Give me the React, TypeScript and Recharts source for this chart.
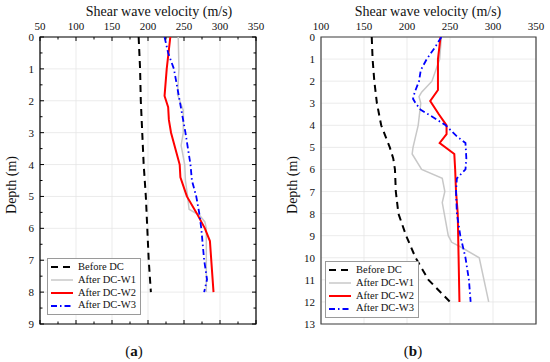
import React from 'react'
import {
  CartesianGrid,
  Legend,
  Line,
  LineChart,
  ReferenceArea,
  XAxis,
  YAxis,
} from 'recharts'

const FONT = '"Liberation Serif", "Times New Roman", serif'

// panel (a)
const A_X_TICKS = [50, 75, 100, 125, 150, 175, 200, 225, 250, 275, 300, 325, 350]
const A_X_MAJOR = [50, 100, 150, 200, 250, 300, 350]
const A_Y_TICKS = [0, 0.5, 1, 1.5, 2, 2.5, 3, 3.5, 4, 4.5, 5, 5.5, 6, 6.5, 7, 7.5, 8, 8.5, 9]
const A_Y_MAJOR = [0, 1, 2, 3, 4, 5, 6, 7, 8, 9]

const A_BEFORE_DEPTH = [0, 1, 2, 3, 4, 5, 6, 7, 8]
const A_BEFORE_VS = [187, 189, 190, 192, 194, 197, 199, 201, 204]
const A_W1_DEPTH = [0, 1, 1.8, 2.3, 3, 3.4, 4, 4.5, 5, 5.4, 5.6, 5.8, 6, 7, 8]
const A_W1_VS = [242, 243, 241, 249, 249, 246, 251, 252, 255, 257, 272, 279, 281, 281, 281]
const A_W2_DEPTH = [0, 1, 1.85, 2.2, 2.6, 3, 4, 4.4, 5, 5.5, 6, 6.4, 8]
const A_W2_VS = [231, 226, 223, 228, 229, 232, 244, 245, 254, 267, 279, 286, 291]
const A_W3_DEPTH = [0, 0.5, 1, 2, 3, 4, 4.5, 5, 5.5, 6, 7, 7.6, 8]
const A_W3_VS = [223, 228, 236, 244, 252, 259, 261, 267, 271, 274, 278, 282, 278]

// panel (b)
const B_X_TICKS = [100, 150, 200, 250, 300, 350]
const B_Y_TICKS = [0, 1, 2, 3, 4, 5, 6, 7, 8, 9, 10, 11, 12, 13]

const B_BEFORE_DEPTH = [0, 1, 2, 3, 4, 4.5, 5, 5.5, 6, 7, 8, 9, 10, 11, 12]
const B_BEFORE_VS = [159, 160, 162, 165, 170, 175, 180, 184, 186, 187, 190, 199, 210, 225, 250]
const B_W1_DEPTH = [0, 1, 2, 2.5, 2.7, 3, 4, 5, 5.3, 6, 6.4, 7, 7.5, 9, 9.3, 9.5, 10, 12]
const B_W1_VS = [240, 238, 229, 217, 214, 216, 213, 207, 206, 217, 241, 244, 241, 248, 252, 262, 284, 295]
const B_W2_DEPTH = [0, 1, 2, 2.4, 2.9, 3.5, 4, 4.4, 4.8, 5.3, 6, 7, 8, 12]
const B_W2_VS = [239, 236, 236, 236, 227, 237, 246, 246, 238, 255, 256, 257, 259, 261]
const B_W3_DEPTH = [0, 0.5, 1, 1.5, 2, 2.5, 2.8, 3, 3.3, 3.6, 4, 4.5, 4.8, 5.5, 6, 6.4, 7, 8, 9, 10, 11, 12]
const B_W3_VS = [240, 232, 223, 216, 214, 209, 207, 210, 216, 229, 245, 258, 268, 269, 268, 258, 257, 258, 262, 268, 272, 274]

const SERIES_NAMES = ['Before DC', 'After DC-W1', 'After DC-W2', 'After DC-W3']

const STYLES: Record<string, { stroke: string; width: number; dash?: string }> = {
  'Before DC': { stroke: '#000000', width: 2, dash: '7 5' },
  'After DC-W1': { stroke: '#c8c8c8', width: 1.5 },
  'After DC-W2': { stroke: '#ff0000', width: 2 },
  'After DC-W3': { stroke: '#0000ff', width: 1.8, dash: '6 3 1.5 3' },
}

const toRows = (depth: number[], vs: number[]) => depth.map((d, i) => ({ depth: d, vs: vs[i] }))

interface PanelProps {
  series: { depth: number[]; vs: number[] }[]
  xTicks: number[]
  xMajor: number[]
  yTicks: number[]
  yMajor: number[]
  margin: { top: number; right: number; bottom: number; left: number }
  innerTicks: boolean
  frame: string
  legendPos: { left: number; top: number }
}

const CHART_W = 275
const CHART_H = 362
const X_AXIS_H = 25
const Y_AXIS_W = 30

const tickText: React.CSSProperties = { fontFamily: FONT, fontSize: 11 }

function Panel({ series, xTicks, xMajor, yTicks, yMajor, margin, innerTicks, frame, legendPos }: PanelProps) {
  const top = margin.top + X_AXIS_H
  const bottom = CHART_H - margin.bottom
  const left = margin.left + Y_AXIS_W
  const right = CHART_W - margin.right
  const xMin = xTicks[0]
  const xMax = xTicks[xTicks.length - 1]
  const yMax = yTicks[yTicks.length - 1]

  const xTick = (p: any) => {
    const v = p.payload.value
    const major = xMajor.includes(v)
    const len = major ? 4 : 2.5
    return (
      <g>
        {innerTicks && (
          <>
            <line x1={p.x} x2={p.x} y1={top} y2={top + len} stroke="#000" />
            <line x1={p.x} x2={p.x} y1={bottom} y2={bottom - len} stroke="#000" />
          </>
        )}
        {major && (
          <text x={p.x} y={p.y} textAnchor="middle" fill="#111" style={tickText}>
            {v}
          </text>
        )}
      </g>
    )
  }

  const yTick = (p: any) => {
    const v = p.payload.value
    const major = yMajor.includes(v)
    const len = major ? 4 : 2.5
    return (
      <g>
        {innerTicks && (
          <>
            <line x1={left} x2={left + len} y1={p.y} y2={p.y} stroke="#000" />
            <line x1={right} x2={right - len} y1={p.y} y2={p.y} stroke="#000" />
          </>
        )}
        {major && (
          <text x={p.x} y={p.y} dy={4} textAnchor="end" fill="#111" style={tickText}>
            {v}
          </text>
        )}
      </g>
    )
  }

  const renderLegend = () => (
    <div
      style={{
        border: '1px solid #9a9a9a',
        background: '#fff',
        padding: '2px 4px 2px 3px',
        fontFamily: FONT,
        fontSize: 10.5,
        lineHeight: '12.8px',
        color: '#111',
      }}
    >
      {SERIES_NAMES.map((name) => {
        const s = STYLES[name]
        return (
          <div key={name} style={{ display: 'flex', alignItems: 'center', whiteSpace: 'nowrap' }}>
            <svg width={22} height={8} style={{ marginRight: 5 }}>
              <line x1={0} x2={22} y1={4} y2={4} stroke={s.stroke} strokeWidth={s.width} strokeDasharray={s.dash} />
            </svg>
            {name}
          </div>
        )
      })}
    </div>
  )

  return (
    <LineChart layout="vertical" width={CHART_W} height={CHART_H} margin={margin}>
      <CartesianGrid stroke="#e6e6e6" strokeWidth={0.8} verticalValues={xMajor} horizontalValues={yMajor} />
      <XAxis
        type="number"
        orientation="top"
        domain={[xMin, xMax]}
        ticks={xTicks}
        interval={0}
        height={X_AXIS_H}
        axisLine={false}
        tickLine={false}
        tickSize={0}
        tickMargin={7}
        tick={xTick}
        allowDataOverflow
      />
      <YAxis
        type="number"
        dataKey="depth"
        domain={[0, yMax]}
        ticks={yTicks}
        interval={0}
        width={Y_AXIS_W}
        axisLine={false}
        tickLine={false}
        tickSize={0}
        tickMargin={6}
        tick={yTick}
        allowDataOverflow
      />
      <ReferenceArea x1={xMin} x2={xMax} y1={0} y2={yMax} fill="none" stroke={frame} strokeWidth={1.2} />
      {series.map((s, i) => {
        const st = STYLES[SERIES_NAMES[i]]
        return (
          <Line
            key={SERIES_NAMES[i]}
            name={SERIES_NAMES[i]}
            data={toRows(s.depth, s.vs)}
            dataKey="vs"
            type="linear"
            stroke={st.stroke}
            strokeWidth={st.width}
            strokeDasharray={st.dash}
            dot={false}
            isAnimationActive={false}
          />
        )
      })}
      <Legend
        layout="horizontal"
        verticalAlign="middle"
        align="center"
        content={renderLegend}
        wrapperStyle={{ left: legendPos.left, top: legendPos.top, width: 'auto' }}
      />
    </LineChart>
  )
}

const textBase: React.CSSProperties = {
  position: 'absolute',
  fontFamily: FONT,
  color: '#111',
  whiteSpace: 'nowrap',
  transform: 'translate(-50%, -50%)',
}

export default function App() {
  return (
    <div style={{ position: 'absolute', left: 0, top: 0, width: 550, height: 362, background: '#fff', overflow: 'hidden' }}>
      <div style={{ position: 'absolute', left: 0, top: 0 }}>
        <Panel
          series={[
            { depth: A_BEFORE_DEPTH, vs: A_BEFORE_VS },
            { depth: A_W1_DEPTH, vs: A_W1_VS },
            { depth: A_W2_DEPTH, vs: A_W2_VS },
            { depth: A_W3_DEPTH, vs: A_W3_VS },
          ]}
          xTicks={A_X_TICKS}
          xMajor={A_X_MAJOR}
          yTicks={A_Y_TICKS}
          yMajor={A_Y_MAJOR}
          margin={{ top: 12, right: 19, bottom: 38, left: 10 }}
          innerTicks
          frame="#000"
          legendPos={{ left: 47, top: 258 }}
        />
      </div>
      <div style={{ position: 'absolute', left: 275, top: 0 }}>
        <Panel
          series={[
            { depth: B_BEFORE_DEPTH, vs: B_BEFORE_VS },
            { depth: B_W1_DEPTH, vs: B_W1_VS },
            { depth: B_W2_DEPTH, vs: B_W2_VS },
            { depth: B_W3_DEPTH, vs: B_W3_VS },
          ]}
          xTicks={B_X_TICKS}
          xMajor={B_X_TICKS}
          yTicks={B_Y_TICKS}
          yMajor={B_Y_TICKS}
          margin={{ top: 12, right: 14, bottom: 38, left: 16 }}
          innerTicks={false}
          frame="#444"
          legendPos={{ left: 50, top: 261 }}
        />
      </div>

      <div style={{ ...textBase, left: 159, top: 12, fontSize: 14 }}>Shear wave velocity (m/s)</div>
      <div style={{ ...textBase, left: 428, top: 12, fontSize: 14 }}>Shear wave velocity (m/s)</div>
      <div style={{ ...textBase, left: 12, top: 185, fontSize: 14, transform: 'translate(-50%, -50%) rotate(-90deg)' }}>
        Depth (m)
      </div>
      <div style={{ ...textBase, left: 293, top: 185, fontSize: 14, transform: 'translate(-50%, -50%) rotate(-90deg)' }}>
        Depth (m)
      </div>
      <div style={{ ...textBase, left: 134, top: 351, fontSize: 15 }}>
        (<b>a</b>)
      </div>
      <div style={{ ...textBase, left: 413, top: 351, fontSize: 15 }}>
        (<b>b</b>)
      </div>
    </div>
  )
}
